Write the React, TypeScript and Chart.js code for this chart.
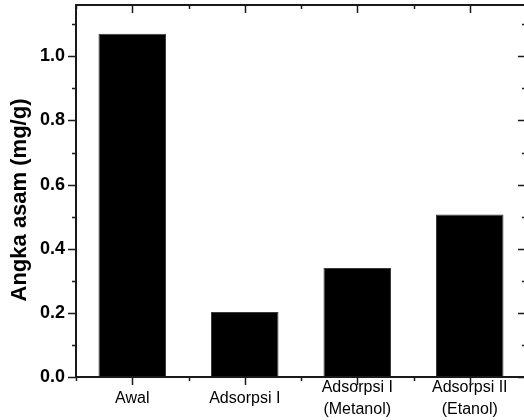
import React, { useEffect, useRef } from "react";
import { Chart, registerables } from "chart.js";

Chart.register(...registerables);

const categories: (string | string[])[] = [
  "Awal",
  "Adsorpsi I",
  ["Adsorpsi I", "(Metanol)"],
  ["Adsorpsi II", "(Etanol)"],
];
const values = [1.07, 0.203, 0.34, 0.507];
const yMajorTicks = [0, 0.2, 0.4, 0.6, 0.8, 1.0];
const yMinorTicks = [0.1, 0.3, 0.5, 0.7, 0.9, 1.1];
const yTitle = "Angka asam (mg/g)";

const FONT = "'Liberation Sans', Arial, Helvetica, sans-serif";

const framePlugin = {
  id: "framePlugin",
  afterDraw(chart: any) {
    const { ctx, chartArea, scales } = chart;
    const { left, right, top, bottom } = chartArea;
    const y = scales.y;
    const x = scales.x;
    ctx.save();
    ctx.strokeStyle = "#1a1a1a";
    ctx.lineWidth = 2;
    ctx.beginPath();
    ctx.moveTo(left, top);
    ctx.lineTo(right, top);
    ctx.lineTo(right, bottom);
    ctx.lineTo(left, bottom);
    ctx.closePath();
    ctx.stroke();
    ctx.lineWidth = 1.5;
    ctx.beginPath();
    const yTick = (v: number, len: number) => {
      const py = Math.round(y.getPixelForValue(v)) + 0.5;
      ctx.moveTo(left, py);
      ctx.lineTo(left - len, py);
      ctx.moveTo(right, py);
      ctx.lineTo(right - len, py);
    };
    yMajorTicks.forEach((v) => yTick(v, 8));
    yMinorTicks.forEach((v) => yTick(v, 4));
    const n = categories.length;
    const xTick = (px: number, len: number) => {
      const p = Math.round(px) + 0.5;
      ctx.moveTo(p, bottom);
      ctx.lineTo(p, bottom + len);
      ctx.moveTo(p, top);
      ctx.lineTo(p, top + len);
    };
    for (let i = 0; i < n; i++) xTick(x.getPixelForValue(i), 8);
    for (let i = 0; i <= n; i++) xTick(x.getPixelForValue(i - 0.5), 4);
    ctx.stroke();

    ctx.fillStyle = "#000";
    ctx.font = `bold 22px ${FONT}`;
    ctx.textAlign = "center";
    ctx.textBaseline = "middle";
    ctx.translate(20, (top + bottom) / 2 + 9);
    ctx.rotate(-Math.PI / 2);
    ctx.fillText(yTitle, 0, 0);
    ctx.restore();
  },
};

export default function App() {
  const ref = useRef<HTMLCanvasElement | null>(null);
  useEffect(() => {
    document.body.style.margin = "0";
    if (!ref.current) return;
    const chart = new Chart(ref.current, {
      type: "bar",
      data: {
        labels: categories as any,
        datasets: [
          {
            data: values,
            backgroundColor: "#000000",
            borderColor: "#3a3a3a",
            borderWidth: 1,
            barPercentage: 0.6,
            categoryPercentage: 1,
          },
        ],
      },
      options: {
        animation: false,
        responsive: false,
        devicePixelRatio: 1,
        layout: { padding: { left: 0, top: 5, right: 4, bottom: 0 } },
        plugins: {
          legend: { display: false },
          tooltip: { enabled: false },
        },
        scales: {
          x: {
            type: "category",
            offset: true,
            border: { display: false },
            grid: {
              display: true,
              drawOnChartArea: false,
              color: "rgba(0,0,0,0)",
              tickLength: 8,
            },
            ticks: {
              color: "#000",
              font: { family: FONT, size: 16, lineHeight: 1.375 },
              padding: 3,
              maxRotation: 0,
              minRotation: 0,
              autoSkip: false,
              crossAlign: "center",
            },
            afterFit: (s: any) => {
              s.height = 43;
              s.paddingLeft = 0;
              s.paddingRight = 0;
            },
          },
          y: {
            min: 0,
            max: 1.16,
            border: { display: false },
            grid: {
              display: true,
              drawOnChartArea: false,
              color: "rgba(0,0,0,0)",
              tickLength: 8,
            },
            ticks: {
              color: "#000",
              font: { family: FONT, size: 18, weight: "bold" },
              padding: 3,
              callback: (v: any) => Number(v).toFixed(1),
            },
            afterBuildTicks: (s: any) => {
              s.ticks = yMajorTicks.map((v) => ({ value: v }));
            },
            afterFit: (s: any) => {
              s.width = 76;
              s.paddingTop = 0;
              s.paddingBottom = 0;
            },
          },
        },
      },
      plugins: [framePlugin],
    });
    return () => chart.destroy();
  }, []);
  return (
    <div style={{ width: 524, height: 420, overflow: "hidden", position: "relative", background: "#fff" }}>
      <canvas ref={ref} width={530} height={420} style={{ width: 530, height: 420, display: "block" }} />
    </div>
  );
}
